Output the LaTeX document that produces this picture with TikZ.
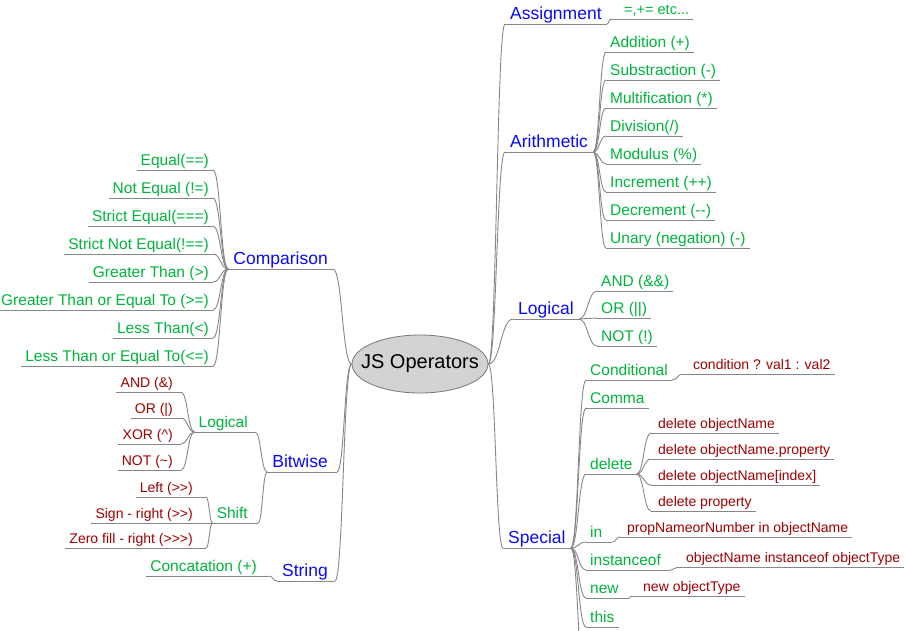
\documentclass[tikz,border=0pt]{standalone}
\usepackage{fontspec}
\setmainfont{Liberation Sans}
\usetikzlibrary{calc,shapes.geometric}
\definecolor{cblue}{RGB}{10,10,250}
\definecolor{cgreen}{RGB}{0,180,60}
\definecolor{cred}{RGB}{160,0,0}
\definecolor{cline}{RGB}{135,135,135}
\definecolor{cfill}{RGB}{211,211,211}
\definecolor{cborder}{RGB}{120,120,120}
\begin{document}
\begin{tikzpicture}[x=1pt,y=-1pt,
  ln/.style={draw=cline,line width=0.9pt},
  mm/.style={to path={let \p1=(\tikztostart),\p2=(\tikztotarget) in .. controls ({0.5*\x1+0.5*\x2},\y1) and ({0.5*\x1+0.5*\x2},\y2) .. (\tikztotarget)}},
  base/.style={inner ysep=1.5pt, text depth=0.25em, inner xsep=4pt},
  lv1/.style={base, text=cblue, font=\fontsize{17.5}{20}\selectfont, inner xsep=5pt},
  lv2/.style={base, text=cgreen, font=\fontsize{15.5}{18}\selectfont},
  lv3/.style={base, text=cred, font=\fontsize{14}{16}\selectfont},
  R/.style={anchor=south west}, L/.style={anchor=south east},
  rootbox/.style={ellipse, draw=cborder, line width=0.8pt, fill=cfill, minimum width=136pt, minimum height=58pt, inner sep=0pt, font=\fontsize{20}{24}\selectfont}
]
\useasboundingbox (0,0) rectangle (905,630);
\clip (0,0) rectangle (905,630);

% root
\node[rootbox] (root) at (420,364) {\makebox[0pt]{JS Operators}};

% right level 1
\node[lv1,R] (asg) at (505,24) {Assignment};
\node[lv1,R] (ari) at (505,152) {Arithmetic};
\node[lv1,R] (rlog) at (513,319) {Logical};
\node[lv1,R] (spc) at (503,548) {Special};

% assignment child
\node[lv2,R,font=\fontsize{14.5}{16}\selectfont] (aeq) at (611,19) {\hspace*{9pt}=,+= etc...};

% arithmetic children
\node[lv2,R] (add) at (606,52) {Addition (+)};
\node[lv2,R] (sub) at (606,80) {Substraction (-)};
\node[lv2,R] (mul) at (606,108) {Multification (*)};
\node[lv2,R] (div) at (606,136) {Division(/)};
\node[lv2,R] (mod) at (606,164) {Modulus (\%)};
\node[lv2,R] (inc) at (606,192) {Increment (++)};
\node[lv2,R] (dec) at (606,220) {Decrement (-{}-)};
\node[lv2,R] (una) at (606,248) {Unary (negation) (-)};

% logical children
\node[lv2,R] (land) at (597,291) {AND (\&\&)};
\node[lv2,R] (lor) at (597,318) {OR (||)};
\node[lv2,R] (lnot) at (597,346) {NOT (!)};

% special children
\node[lv2,R] (cnd) at (586,380) {Conditional};
\node[lv2,R] (cma) at (586,408) {Comma};
\node[lv2,R] (del) at (586,474) {delete};
\node[lv2,R] (oin) at (586,542) {in\hspace*{6pt}};
\node[lv2,R] (iof) at (586,570) {instanceof\hspace*{6pt}};
\node[lv2,R] (onew) at (586,598) {new\hspace*{6pt}};
\node[lv2,R] (othis) at (586,627) {this};
\coordinate (ext) at (586,700);

\node[lv3,R] (cndx) at (683,374) {\hspace*{6pt}condition ? val1 : val2};
\node[lv3,R] (d1) at (651,433) {\hspace*{3pt}delete objectName};
\node[lv3,R] (d2) at (651,459) {\hspace*{3pt}delete objectName.property};
\node[lv3,R] (d3) at (651,485) {\hspace*{3pt}delete objectName[index]};
\node[lv3,R] (d4) at (651,511) {\hspace*{3pt}delete property};
\node[lv3,R] (oinx) at (620,537) {\hspace*{3pt}propNameorNumber in objectName};
\node[lv3,R] (iofx) at (678,567) {\hspace*{4pt}objectName instanceof objectType};
\node[lv3,R] (onewx) at (632,596) {\hspace*{7pt}new objectType};

% left level 1
\node[lv1,L] (cmp) at (333,269) {Comparison};
\node[lv1,L] (bit) at (337,472) {Bitwise\hspace*{4pt}};
\node[lv1,L] (str) at (335,581) {String\hspace*{2pt}};

% comparison children
\node[lv2,L] (c1) at (213,170) {Equal(==)};
\node[lv2,L] (c2) at (213,198) {Not Equal (!=)};
\node[lv2,L] (c3) at (213,226) {Strict Equal(===)};
\node[lv2,L] (c4) at (213,254) {Strict Not Equal(!==)};
\node[lv2,L] (c5) at (213,282) {Greater Than (>)};
\node[lv2,L] (c6) at (213,310) {Greater Than or Equal To (>=)};
\node[lv2,L] (c7) at (213,338) {Less Than(<)};
\node[lv2,L] (c8) at (213,366) {Less Than or Equal To(<=)};

% bitwise children
\node[lv2,L] (blog) at (255,432) {Logical\hspace*{3pt}};
\node[lv2,L] (bsh) at (258,523) {Shift\hspace*{6pt}};

\node[lv3,L] (b1) at (181,392) {AND (\&)\hspace*{4pt}};
\node[lv3,L] (b2) at (181,418) {OR (|)\hspace*{4pt}};
\node[lv3,L] (b3) at (181,444) {XOR (\textasciicircum)\hspace*{4pt}};
\node[lv3,L] (b4) at (181,470) {NOT (\textasciitilde)\hspace*{4pt}};

\node[lv3,L] (s1) at (206,497) {Left (>{}>)\hspace*{9pt}};
\node[lv3,L] (s2) at (206,523) {Sign - right (>{}>)\hspace*{9pt}};
\node[lv3,L] (s3) at (206,548) {Zero fill - right (>{}>{}>)\hspace*{9pt}};

% string child
\node[lv2,L] (cat) at (269,576) {Concatation (+)\hspace*{8pt}};

% underlines
\foreach \k in {asg,ari,rlog,spc,aeq,add,sub,mul,div,mod,inc,dec,una,land,lor,lnot,
  cnd,cma,del,oin,iof,onew,othis,cndx,d1,d2,d3,d4,oinx,iofx,onewx,
  cmp,bit,str,c1,c2,c3,c4,c5,c6,c7,c8,blog,bsh,b1,b2,b3,b4,s1,s2,s3,cat}
  \draw[ln] (\k.south west) -- (\k.south east);

% connectors right
\foreach \k in {asg,ari,rlog,spc} \draw[ln] (root.east) to[mm] (\k.south west);
\draw[ln] (asg.south east) to[mm] (aeq.south west);
\foreach \k in {add,sub,mul,div,mod,inc,dec,una} \draw[ln] (ari.south east) to[mm] (\k.south west);
\foreach \k in {land,lor,lnot} \draw[ln] (rlog.south east) to[mm] (\k.south west);
\foreach \k in {cnd,cma,del,oin,iof,onew,othis} \draw[ln] (spc.south east) to[mm] (\k.south west);
\draw[ln] (spc.south east) to[mm] (ext);
\draw[ln] (cnd.south east) to[mm] (cndx.south west);
\foreach \k in {d1,d2,d3,d4} \draw[ln] (del.south east) to[mm] (\k.south west);
\draw[ln] (oin.south east) to[mm] (oinx.south west);
\draw[ln] (iof.south east) to[mm] (iofx.south west);
\draw[ln] (onew.south east) to[mm] (onewx.south west);

% connectors left
\foreach \k in {cmp,bit,str} \draw[ln] (root.west) to[mm] (\k.south east);
\foreach \k in {c1,c2,c3,c4,c5,c6,c7,c8} \draw[ln] (cmp.south west) to[mm] (\k.south east);
\foreach \k in {blog,bsh} \draw[ln] (bit.south west) to[mm] (\k.south east);
\foreach \k in {b1,b2,b3,b4} \draw[ln] (blog.south west) to[mm] (\k.south east);
\foreach \k in {s1,s2,s3} \draw[ln] (bsh.south west) to[mm] (\k.south east);
\draw[ln] (str.south west) to[mm] (cat.south east);
\end{tikzpicture}
\end{document}
